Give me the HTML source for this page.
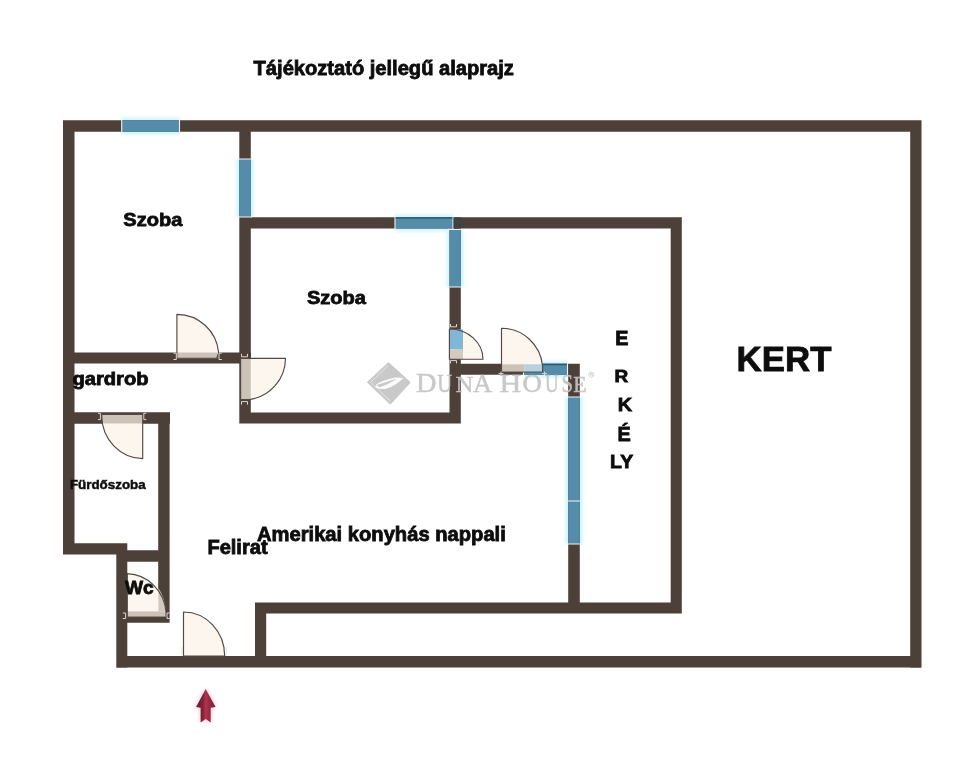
<!DOCTYPE html>
<html>
<head>
<meta charset="utf-8">
<style>
html,body{margin:0;padding:0;background:#fff;}
body{width:960px;height:768px;overflow:hidden;position:relative;}
svg{position:absolute;left:0;top:0;will-change:transform;}
text{font-family:"Liberation Sans",sans-serif;font-weight:bold;fill:#0d0d0d;stroke:#0d0d0d;stroke-width:0.8px;}
text.wm{font-family:"Liberation Serif",serif;font-weight:normal;fill:#c4c4c4;stroke:#c4c4c4;stroke-width:0.5px;}
</style>
</head>
<body>
<svg width="960" height="768" viewBox="0 0 960 768">
<defs>
  <filter id="glow" x="-50%" y="-50%" width="200%" height="200%">
    <feGaussianBlur stdDeviation="1.6"/>
  </filter>
  <filter id="aglow" x="-50%" y="-50%" width="200%" height="200%">
    <feGaussianBlur stdDeviation="2.5"/>
  </filter>
  <linearGradient id="arrowg" gradientUnits="userSpaceOnUse" x1="196" y1="0" x2="215.6" y2="0">
    <stop offset="0" stop-color="#5c2030"/>
    <stop offset="0.35" stop-color="#7e2439"/>
    <stop offset="0.5" stop-color="#b8304f"/>
    <stop offset="0.65" stop-color="#9c2b45"/>
    <stop offset="1" stop-color="#70243a"/>
  </linearGradient>
</defs>

<!-- window glows -->
<g fill="#b4f0ff" filter="url(#glow)" opacity="0.6">
<rect x="121.7" y="117.3" width="57.80" height="17.50"/>
<rect x="236.3" y="159" width="17.50" height="58.00"/>
<rect x="395" y="214.3" width="58.00" height="17.30"/>
<rect x="446.5" y="229.4" width="17.30" height="57.60"/>
<rect x="565.2" y="397" width="17.60" height="104.00"/>
<rect x="565.2" y="501" width="17.60" height="43.00"/>
<rect x="523.5" y="360.8" width="44.00" height="17.00"/>
</g>

<!-- walls -->
<path fill="#4d4038" d="M63,120.3H921.5V131.8H63ZM910.2,120.3H921.5V667.7H910.2ZM116.3,656H921.5V667.6H116.3ZM63,120.3H74.5V554.6H63ZM63,543.2H127.3V554.6H63ZM116.3,550.2H169.6V561.7H116.3ZM116.3,543.2H127.3V667.7H116.3ZM158.2,412.2H169.6V622.7H158.2ZM116.3,611.3H169.6V622.7H116.3ZM63,412.2H170V423.7H63ZM63,352.5H251V363.6H63ZM239.3,120.3H250.8V423.5H239.3ZM239.3,412.5H460.8V423.5H239.3ZM449.5,217.3H460.8V423.5H449.5ZM239.3,217.3H681.8V228.6H239.3ZM670.7,217.3H681.8V613.4H670.7ZM255,602.4H681.8V613.4H255ZM255,602.4H266.2V656.5H255ZM449.5,363.8H579.8V374.8H449.5ZM568.2,363.8H579.8V613.4H568.2Z"/>

<!-- windows -->
<g fill="#548ca9">
<rect x="121.7" y="120.3" width="57.80" height="11.50"/>
<rect x="239.3" y="159" width="11.50" height="58.00"/>
<rect x="395" y="217.3" width="58.00" height="11.30"/>
<rect x="449.5" y="229.4" width="11.30" height="57.60"/>
<rect x="568.2" y="397" width="11.60" height="104.00"/>
<rect x="568.2" y="501" width="11.60" height="43.00"/>
<rect x="523.5" y="363.8" width="44.00" height="11.00"/>
</g>
<path d="M121.7,119.1V133.0M179.5,119.1V133.0M238.10000000000002,159H252.0M238.10000000000002,217H252.0M395,216.10000000000002V229.79999999999998M453,216.10000000000002V229.79999999999998M448.3,229.4H462.0M448.3,287H462.0M567.0,397H581.0M567.0,501H581.0M567.0,501H581.0M567.0,544H581.0M523.5,362.6V376.0M567.5,362.6V376.0" stroke="#eef3f5" stroke-width="1.1" fill="none"/>

<!-- doors -->
<g fill="#fcf6ef" stroke="none">
  <path d="M176.9,358.2 V314.3 A42,42 0 0 1 218.6,352.4 L216.8,358.2 Z"/>
  <path d="M240.6,358.4 H285.5 A42,42 0 0 1 249.5,399.6 H240.6 Z"/>
  <path d="M101.7,414.3 H142.7 V458.6 A42,43 0 0 1 101.7,416 Z"/>
  <path d="M127.3,617 V573.6 A40,42 0 0 1 166,612 V617 Z"/>
  <path d="M183.5,656 V612 A41.2,44 0 0 1 224.7,656 Z"/>
  <path d="M449.4,359.2 V329 A33.6,30.2 0 0 1 483,359.2 Z"/>
  <path d="M501.5,372 V328.3 A41,42 0 0 1 542.6,366 V372 Z"/>
</g>
<g stroke="none">
  <rect x="177.3" y="352.5" width="40" height="5.7" fill="#cdc2b8"/>
  <rect x="240.9" y="358.6" width="9.9" height="40.8" fill="#cdc2b8"/>
  <rect x="102" y="414.8" width="40.4" height="8.7" fill="#cdc2b8"/>
  <rect x="127.6" y="611.4" width="38" height="5.4" fill="#cdc2b8"/>
  <path fill="#d2c8bf" d="M158.4,588 A40,42 0 0 1 165.6,611.4 H158.4 Z"/>
  <rect x="449.7" y="329.4" width="13.3" height="20" fill="#82b6d7"/>
  <rect x="449.7" y="349.4" width="13.3" height="9.6" fill="#d4cac0"/>
  <rect x="501.8" y="364.3" width="22.6" height="7.5" fill="#cdc2b8"/>
  <rect x="524.4" y="364.3" width="17.9" height="7.5" fill="#b6d1e2"/>
</g>
<g fill="none" stroke="#514843" stroke-width="1.15" stroke-linejoin="round">
  <path d="M176.9,358.2 V314.3 A42,42 0 0 1 218.6,352.4 L216.8,358.2 Z"/>
  <path d="M240.6,358.4 H285.5 A42,42 0 0 1 249.5,399.6 H240.6 Z"/>
  <path d="M101.7,414.3 H142.7 V458.6 A42,43 0 0 1 101.7,416 Z"/>
  <path d="M127.3,617 V573.6 A40,42 0 0 1 166,612 V617 Z"/>
  <path d="M183.5,656 V612 A41.2,44 0 0 1 224.7,656 Z"/>
  <path d="M449.4,359.2 V329 A33.6,30.2 0 0 1 483,359.2 Z"/>
  <path d="M501.5,372 V328.3 A41,42 0 0 1 542.6,366 V372 Z"/>
</g>

<!-- door jamb brackets -->
<path fill="none" stroke="#dcd6d0" stroke-width="1" d="M173.5,353.2 H176.3 V359.5 H173.5 M221.8,353.2 H219 V359.5 H221.8
 M241.5,353.8 V356.8 H247.5 V353.8 M241.5,404.6 V401.6 H247.5 V404.6
 M98,413.3 H100.4 V419.6 H98 M146.3,413.3 H143.8 V419.6 H146.3
 M122.8,613 H125.6 V618.5 H122.8 M169.8,613 H167 V618.5 H169.8
 M450.5,324 V326.8 H456.5 V324 M450.5,363.4 V360.6 H456.5 V363.4
 M498.5,373.6 H503.5 M501,371.5 V375 M542,373.6 H547 M544.5,371.5 V375"/>
<path fill="none" stroke="#d8d8d8" stroke-width="0.9" opacity="0.8" d="M182,647 V655 M226.2,647 V655"/>
<path fill="none" stroke="#2d5873" stroke-width="1.3" d="M395.6,218 H452.4 M543,364.5 H567"/>
<rect x="453.6" y="217.3" width="7.2" height="11.3" fill="#3e4347"/>

<!-- watermark -->
<g opacity="0.92">
  <path d="M388.4,363.6 L409.2,382.4 L390.3,403.2 L368.3,382.3 Z" fill="#c5c5c5" stroke="#c5c5c5" stroke-width="2.2" stroke-linejoin="round"/>
  <path d="M388.2,365.6 L370.6,382.3 L390.2,401" fill="none" stroke="#ececec" stroke-width="0.8"/>
  <path d="M376.5,384.3 C380,381.8 386,379.6 394,377.8 C398,377 401,377.6 403.6,378.2 C400,381 397,384 391,387 C386,389.4 381,390 375,387.2 C376,386.2 376.5,385.2 376.5,384.3 Z" fill="#fbfbfb"/>
  <path d="M376.8,385 C383,383.4 389,381 397,378.6 C391,382.6 386,385.4 379.5,387.2 Z" fill="#c5c5c5"/>
  <g>
  <text class="wm" x="416.0" y="391.5" font-size="27.25" textLength="20.49" lengthAdjust="spacingAndGlyphs">D</text>
  <text class="wm" x="437.2" y="391.5" font-size="25.125" textLength="14.94" lengthAdjust="spacingAndGlyphs">U</text>
  <text class="wm" x="455.6" y="391.5" font-size="24.125" textLength="17.92" lengthAdjust="spacingAndGlyphs">N</text>
  <text class="wm" x="473.0" y="391.5" font-size="25.125" textLength="19.14" lengthAdjust="spacingAndGlyphs">A</text>
  <text class="wm" x="499.6" y="391.5" font-size="25.125" textLength="21.84" lengthAdjust="spacingAndGlyphs">H</text>
  <text class="wm" x="522.6" y="391.5" font-size="25.125" textLength="19.34" lengthAdjust="spacingAndGlyphs">O</text>
  <text class="wm" x="545.0" y="391.5" font-size="25.125" textLength="13.54" lengthAdjust="spacingAndGlyphs">U</text>
  <text class="wm" x="561.4" y="391.5" font-size="25.125" textLength="11.57" lengthAdjust="spacingAndGlyphs">S</text>
  <text class="wm" x="573.2" y="391.5" font-size="23.125" textLength="13.33" lengthAdjust="spacingAndGlyphs">E</text>
  </g>
  <circle cx="591.3" cy="374.7" r="2.6" fill="none" stroke="#c4c4c4" stroke-width="0.7"/>
  <text x="589.9" y="376.3" style="font-family:'Liberation Sans',sans-serif;font-weight:bold;fill:#c4c4c4;stroke:none" font-size="4.2">R</text>
</g>

<!-- arrow -->
<path d="M205.7,689.1 L215.6,707 L210.7,707.7 L210.7,722.6 L205.7,719 L200.6,722.6 L200.6,707.7 L196.1,707 Z" fill="#ff6d92" filter="url(#aglow)" opacity="0.5"/>
<path d="M205.7,689.1 L215.6,707 L210.7,707.7 L210.7,722.6 L205.7,719 L200.6,722.6 L200.6,707.7 L196.1,707 Z" fill="url(#arrowg)"/>

<!-- text -->
<text x="253.6" y="74.5" font-size="19.6" textLength="260.3" lengthAdjust="spacingAndGlyphs" style="">Tájékoztató jellegű alaprajz</text>
<text x="123.3" y="226.1" font-size="18.38" textLength="59.0" lengthAdjust="spacingAndGlyphs" style="">Szoba</text>
<text x="306.9" y="304.4" font-size="18.38" textLength="59.1" lengthAdjust="spacingAndGlyphs" style="">Szoba</text>
<text x="72.4" y="384.6" font-size="17.75" textLength="76.16" lengthAdjust="spacingAndGlyphs" style="">gardrob</text>
<text x="69.9" y="488.6" font-size="13.2" textLength="75.8" lengthAdjust="spacingAndGlyphs" style="stroke-width:0.5px">Fürdőszoba</text>
<text x="125.0" y="594.0" font-size="18.6" textLength="28.7" lengthAdjust="spacingAndGlyphs" style="">Wc</text>
<text x="207.4" y="553.6" font-size="19.3" textLength="60.2" lengthAdjust="spacingAndGlyphs" style="">Felirat</text>
<text x="257.0" y="540.7" font-size="19.3" textLength="248.8" lengthAdjust="spacingAndGlyphs" style="">Amerikai konyhás nappali</text>
<text x="736.6" y="370.6" font-size="35.0" textLength="94.83" lengthAdjust="spacingAndGlyphs">KERT</text>
<text x="615.2" y="345.3" font-size="19.8" textLength="13.2" lengthAdjust="spacingAndGlyphs" style="">E</text>
<text x="614.6" y="382.2" font-size="16.5" textLength="13.72" lengthAdjust="spacingAndGlyphs">R</text>
<text x="617.8" y="411.2" font-size="18.38" textLength="14.37" lengthAdjust="spacingAndGlyphs">K</text>
<text x="617.4" y="441.3" font-size="20.25" textLength="13.3" lengthAdjust="spacingAndGlyphs" style="">É</text>
<text x="610.1" y="467.7" font-size="18.6" textLength="23.1" lengthAdjust="spacingAndGlyphs" style="">LY</text>
</svg>
</body>
</html>
